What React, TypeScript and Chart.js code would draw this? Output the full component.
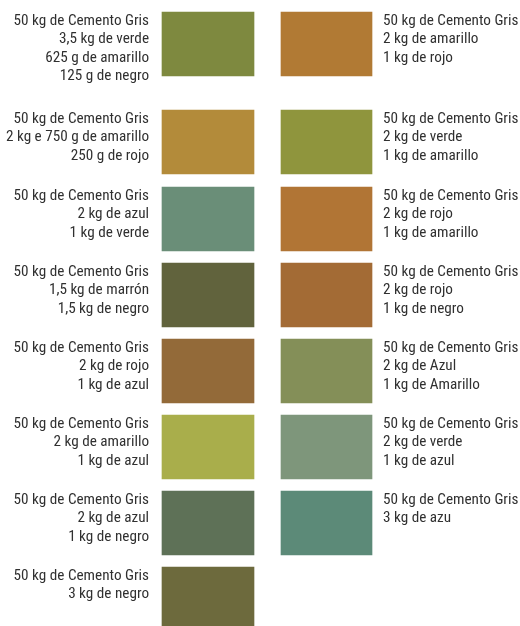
import { useEffect, useRef } from 'react';
import { Chart, registerables } from 'chart.js';

Chart.register(...registerables);

// ---- data ----
const LEFT_LABELS: string[][] = [
  ['50 kg de Cemento Gris', '3,5 kg de verde', '625 g de amarillo', '125 g de negro'],
  ['50 kg de Cemento Gris', '2 kg e 750 g de amarillo', '250 g de rojo'],
  ['50 kg de Cemento Gris', '2 kg de azul', '1 kg de verde'],
  ['50 kg de Cemento Gris', '1,5 kg de marrón', '1,5 kg de negro'],
  ['50 kg de Cemento Gris', '2 kg de rojo', '1 kg de azul'],
  ['50 kg de Cemento Gris', '2 kg de amarillo', '1 kg de azul'],
  ['50 kg de Cemento Gris', '2 kg de azul', '1 kg de negro'],
  ['50 kg de Cemento Gris', '3 kg de negro'],
];
const LEFT_COLORS: string[] = [
  '#7e893f', '#b38b3a', '#6a8e78', '#61633d', '#936a39', '#a9ae4b', '#5e7157', '#6d6a3d',
];
const RIGHT_LABELS: string[][] = [
  ['50 kg de Cemento Gris', '2 kg de amarillo', '1 kg de rojo'],
  ['50 kg de Cemento Gris', '2 kg de verde', '1 kg de amarillo'],
  ['50 kg de Cemento Gris', '2 kg de rojo', '1 kg de amarillo'],
  ['50 kg de Cemento Gris', '2 kg de rojo', '1 kg de negro'],
  ['50 kg de Cemento Gris', '2 kg de Azul', '1 kg de Amarillo'],
  ['50 kg de Cemento Gris', '2 kg de verde', '1 kg de azul'],
  ['50 kg de Cemento Gris', '3 kg de azu'],
];
const RIGHT_COLORS: string[] = [
  '#b17a34', '#8f953d', '#b17535', '#a36b35', '#848f58', '#7e967b', '#5c8a78',
];

// ---- layout ----
const W = 520;
const H = 626;
const SWATCH_H = 64;
const ROW_TOPS = [12, 110, 187, 263, 339, 415, 491, 567];
const LEFT_SPAN = [162, 254];
const RIGHT_SPAN = [281, 372];
const TEXT_GAP_LEFT = 13;
const TEXT_GAP_RIGHT = 11;
const LINE_H = 18.5;
const FIRST_BASELINE = 12.5;
const FONT = "15.2px 'Roboto Condensed', 'Liberation Sans Narrow', 'DejaVu Sans Condensed', sans-serif";
const TEXT_COLOR = '#303030';

const textPlugin = {
  id: 'swatchText',
  afterDatasetsDraw(chart: any) {
    const ctx = chart.ctx;
    ctx.save();
    ctx.font = FONT;
    ctx.fillStyle = TEXT_COLOR;
    ctx.textBaseline = 'alphabetic';
    [LEFT_LABELS, RIGHT_LABELS].forEach((labels, d) => {
      const meta = chart.getDatasetMeta(d);
      meta.data.forEach((el: any, i: number) => {
        const p = el.getProps(['x', 'y', 'base', 'height'], true);
        const top = p.y - p.height / 2;
        const lo = Math.min(p.x, p.base);
        const hi = Math.max(p.x, p.base);
        ctx.textAlign = d === 0 ? 'right' : 'left';
        const tx = d === 0 ? lo - TEXT_GAP_LEFT : hi + TEXT_GAP_RIGHT;
        labels[i].forEach((line, j) => {
          ctx.fillText(line, tx, top + FIRST_BASELINE + j * LINE_H);
        });
      });
    });
    ctx.restore();
  },
};

export default function App() {
  const ref = useRef<HTMLCanvasElement>(null);
  useEffect(() => {
    document.body.style.margin = '0';
    const canvas = ref.current!;
    const chart = new Chart(canvas, {
      type: 'bar',
      data: {
        datasets: [
          {
            label: 'left',
            data: LEFT_LABELS.map((_, i) => ({ x: LEFT_SPAN, y: ROW_TOPS[i] + SWATCH_H / 2 })) as any,
            backgroundColor: LEFT_COLORS,
            barThickness: SWATCH_H,
            borderWidth: 0,
            grouped: false,
          } as any,
          {
            label: 'right',
            data: RIGHT_LABELS.map((_, i) => ({ x: RIGHT_SPAN, y: ROW_TOPS[i] + SWATCH_H / 2 })) as any,
            backgroundColor: RIGHT_COLORS,
            barThickness: SWATCH_H,
            borderWidth: 0,
            grouped: false,
          } as any,
        ],
      },
      options: {
        indexAxis: 'y',
        animation: false,
        responsive: false,
        layout: { padding: 0 },
        scales: {
          x: { type: 'linear', min: 0, max: W, display: false, offset: false },
          y: { type: 'linear', min: 0, max: H, reverse: true, display: false, offset: false },
        },
        plugins: { legend: { display: false }, tooltip: { enabled: false } },
        events: [],
      } as any,
      plugins: [textPlugin],
    });
    return () => chart.destroy();
  }, []);
  return (
    <div style={{ width: W, height: H, background: '#fff' }}>
      <canvas ref={ref} width={W} height={H} style={{ display: 'block' }} />
    </div>
  );
}
